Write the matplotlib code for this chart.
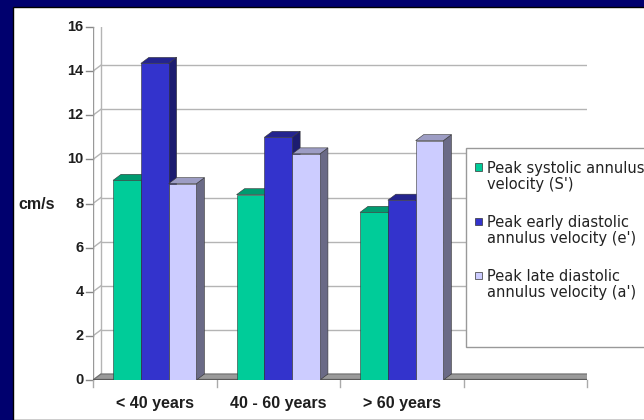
#!/usr/bin/env python3
"""Tissue Doppler annulus velocities by age group, 3D-style clustered bars."""

import matplotlib

matplotlib.use("Agg")
import matplotlib.pyplot as plt
from matplotlib.patches import Polygon, Rectangle

plt.rcParams["font.family"] = ["Liberation Sans", "DejaVu Sans"]

categories = ["< 40 years", "40 - 60 years", "> 60 years", ""]
systolic_s = [9.05, 8.4, 7.6]
early_e = [14.35, 11.0, 8.15]
late_a = [8.9, 10.25, 10.85]
series_names = [
    "Peak systolic annulus\nvelocity (S')",
    "Peak early diastolic\nannulus velocity (e')",
    "Peak late diastolic\nannulus velocity (a')",
]
y_ticks = [0, 2, 4, 6, 8, 10, 12, 14, 16]

# front, top, side colours per series
colors = [
    ("#00cc99", "#009b70", "#00805c"),
    ("#3333cc", "#24248f", "#1c1c70"),
    ("#ccccff", "#9d9dc4", "#6a6a86"),
]
grid_c = "#b4b4b4"

W, H = 644, 420
fig = plt.figure(figsize=(W / 100, H / 100), dpi=100)
fig.patch.set_facecolor("#00006e")
fig.patches.append(Rectangle((13 / W, 0), 1, 1 - 7 / H, transform=fig.transFigure,
                             facecolor="white", edgecolor="black", lw=1, zorder=-1))

ax = fig.add_axes([93 / W, 40 / H, 494 / W, 353 / H])
ax.set_xlim(0, 4)
ax.set_ylim(0, 16)
ax.axis("off")

# depth offset of the 3D box (8 px right, 6 px up) in data units
ddx = 8 / 494 * 4
ddy = 6 / 353 * 16

# back wall with gridlines
for y in y_ticks:
    ax.plot([ddx, 4 + ddx], [y + ddy, y + ddy], color=grid_c, lw=1, zorder=1)
    ax.plot([0, ddx], [y, y + ddy], color=grid_c, lw=1, zorder=1)
    ax.plot([-0.055, 0], [y, y], color="#888888", lw=1, clip_on=False, zorder=1)
    ax.text(-0.075, y, str(y), ha="right", va="center", fontsize=10.5,
            fontweight="bold", color="#1e1e1e")
ax.plot([ddx, ddx], [ddy, 16 + ddy], color=grid_c, lw=1, zorder=1)
ax.plot([4 + ddx, 4 + ddx], [ddy, 16 + ddy], color=grid_c, lw=1, zorder=1)
ax.plot([0, 0], [0, 16], color="#999999", lw=1, zorder=1)

# floor
ax.add_patch(Polygon([(0, 0), (4, 0), (4 + ddx, ddy), (ddx, ddy)], closed=True,
                     facecolor="#9a9a9a", edgecolor="#6e6e6e", lw=0.8, zorder=2))
ax.plot([0, 4], [0, 0], color="#5a5a5a", lw=1.6, zorder=2, solid_capstyle="butt")
for i in range(5):
    ax.plot([i, i], [0, -0.3], color="#aaaaaa", lw=1, clip_on=False, zorder=1)

ax.text(-0.46, 7.95, "cm/s", ha="center", va="center", fontsize=11.5,
        fontweight="bold", color="#1e1e1e")

for i, lab in enumerate(categories):
    ax.text(i + 0.5, -1.05, lab, ha="center", va="center", fontsize=11.5,
            fontweight="bold", color="#1e1e1e")

# bars
bw = 0.225
z = 3
for gi in range(3):
    vals = [systolic_s[gi], early_e[gi], late_a[gi]]
    for si, v in enumerate(vals):
        left = gi + 0.5 - 1.5 * bw + si * bw
        right = left + bw
        front, top, side = colors[si]
        ax.add_patch(Polygon([(right, 0), (right, v), (right + ddx, v + ddy),
                              (right + ddx, ddy)], closed=True, facecolor=side,
                             edgecolor="#333333", lw=0.4, zorder=z))
        ax.add_patch(Polygon([(left, v), (right, v), (right + ddx, v + ddy),
                              (left + ddx, v + ddy)], closed=True, facecolor=top,
                             edgecolor="#333333", lw=0.4, zorder=z))
        ax.bar(left, v, bw, align="edge", color=front, edgecolor="#333333",
               lw=0.4, zorder=z + 1)
        z += 2

# legend box, running off the right edge
fig.patches.append(Rectangle((466 / W, 1 - 347 / H), 0.5, 199 / H,
                             transform=fig.transFigure, facecolor="white",
                             edgecolor="#999999", lw=1, zorder=5))
for si, name in enumerate(series_names):
    first_line = 167 + si * 54
    fig.patches.append(Rectangle((475 / W, 1 - (first_line + 3.5) / H), 7 / W, 7 / H,
                                 transform=fig.transFigure, facecolor=colors[si][0],
                                 edgecolor="#333333", lw=0.5, zorder=6))
    fig.text(487 / W, 1 - (first_line + 9.5) / H, name, ha="left", va="center",
             fontsize=10.5, family="DejaVu Sans", color="#222222",
             linespacing=1.12, zorder=7)

fig.savefig("out.png", dpi=100, facecolor=fig.get_facecolor())
